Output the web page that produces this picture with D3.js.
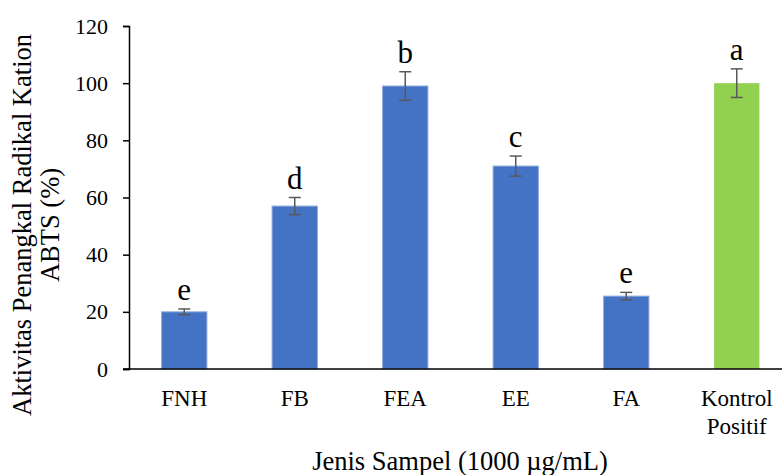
<!DOCTYPE html>
<html>
<head>
<meta charset="utf-8">
<script src="https://cdn.jsdelivr.net/npm/d3@7"></script>
<style>
  body { margin: 0; background: #fff; }
  svg text { font-family: "Liberation Serif", "Times New Roman", serif !important; fill: #000; }
</style>
</head>
<body>
<div id="viz"></div>
<script>
// data
var categories = ["FNH", "FB", "FEA", "EE", "FA", "Kontrol Positif"];
var values = [20, 57, 99, 71, 25.5, 100];
var errors = [1, 3, 5, 3.5, 1.3, 5];
var letters = ["e", "d", "b", "c", "e", "a"];
var yTicks = [0, 20, 40, 60, 80, 100, 120];

var width = 782, height = 475;
var margin = {top: 26, left: 129, bottom: 106};

var svg = d3.select("#viz").append("svg")
  .attr("width", width)
  .attr("height", height);

var x = d3.scaleBand()
  .domain(categories)
  .range([margin.left, 792])
  .paddingInner(0.59)
  .paddingOuter(0.295);

var y = d3.scaleLinear()
  .domain([0, 120])
  .range([height - margin.bottom, margin.top]);

// y axis
var yAxis = svg.append("g")
  .attr("transform", "translate(" + margin.left + ",0)")
  .call(d3.axisLeft(y).tickValues(yTicks).tickSize(6).tickPadding(15));
yAxis.selectAll("path, line").attr("stroke", "#000").attr("stroke-width", 1.5);
yAxis.selectAll("text").style("font-size", "22px");

// bars
svg.selectAll("rect.bar")
  .data(categories)
  .enter()
  .append("rect")
  .attr("class", "bar")
  .attr("x", function(d) { return x(d); })
  .attr("width", x.bandwidth())
  .attr("y", function(d, i) { return y(values[i]); })
  .attr("height", function(d, i) { return y(0) - y(values[i]); })
  .attr("fill", function(d, i) { return i == 5 ? "#92D050" : "#4472C4"; })
  .attr("stroke", function(d, i) { return i == 5 ? "none" : "#8eaadc"; })
  .attr("stroke-width", 1);

// x axis line
svg.append("line")
  .attr("x1", margin.left - 6)
  .attr("x2", width)
  .attr("y1", y(0))
  .attr("y2", y(0))
  .attr("stroke", "#000")
  .attr("stroke-width", 1.5);

// error bars
var err = svg.selectAll("g.err")
  .data(categories)
  .enter()
  .append("g")
  .attr("stroke", "#595959")
  .attr("stroke-width", 1.5);
err.append("line")
  .attr("x1", function(d) { return x(d) + x.bandwidth() / 2; })
  .attr("x2", function(d) { return x(d) + x.bandwidth() / 2; })
  .attr("y1", function(d, i) { return y(values[i] + errors[i]); })
  .attr("y2", function(d, i) { return y(values[i] - errors[i]); });
[1, -1].forEach(function(s) {
  err.append("line")
    .attr("x1", function(d) { return x(d) + x.bandwidth() / 2 - 6; })
    .attr("x2", function(d) { return x(d) + x.bandwidth() / 2 + 6; })
    .attr("y1", function(d, i) { return y(values[i] + s * errors[i]); })
    .attr("y2", function(d, i) { return y(values[i] + s * errors[i]); });
});

// significance letters
svg.selectAll("text.letter")
  .data(categories)
  .enter()
  .append("text")
  .attr("class", "letter")
  .attr("x", function(d) { return x(d) + x.bandwidth() / 2; })
  .attr("y", function(d, i) { return y(values[i] + errors[i]) - 9; })
  .attr("text-anchor", "middle")
  .style("font-size", "31px")
  .text(function(d, i) { return letters[i]; });

// category labels
svg.selectAll("text.cat")
  .data(categories)
  .enter()
  .append("text")
  .attr("class", "cat")
  .attr("x", function(d) { return x(d) + x.bandwidth() / 2; })
  .attr("y", y(0) + 37)
  .attr("text-anchor", "middle")
  .style("font-size", "23px")
  .each(function(d) {
    var parts = d.split(" ");
    var t = d3.select(this);
    parts.forEach(function(p, j) {
      t.append("tspan")
        .attr("x", x(d) + x.bandwidth() / 2)
        .attr("dy", j == 0 ? 0 : 28)
        .text(p);
    });
  });

// axis titles
svg.append("text")
  .attr("x", 460)
  .attr("y", 470)
  .attr("text-anchor", "middle")
  .style("font-size", "26.5px")
  .text("Jenis Sampel (1000 \u00b5g/mL)");

var yt = svg.append("text")
  .attr("transform", "translate(0,225) rotate(-90)")
  .attr("text-anchor", "middle")
  .style("font-size", "26.5px");
yt.append("tspan").attr("x", 0).attr("y", 31).text("Aktivitas Penangkal Radikal Kation");
yt.append("tspan").attr("x", 0).attr("y", 59).text("ABTS (%)");
</script>
</body>
</html>
